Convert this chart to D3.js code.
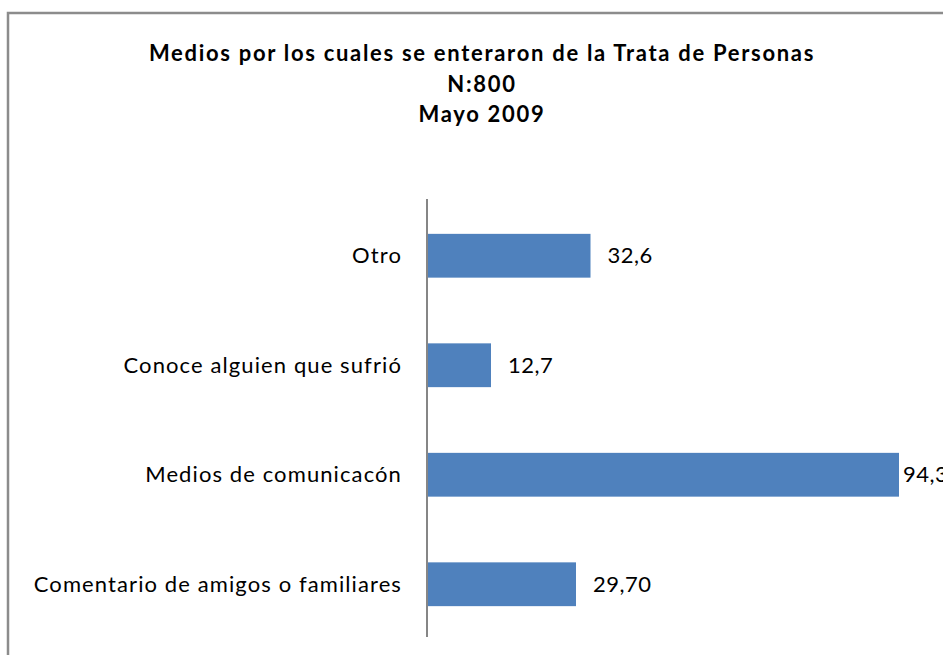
<!DOCTYPE html>
<html>
<head>
<meta charset="utf-8">
<style>
  body { margin: 0; background: #fff; }
  text { font-family: Lato, "Open Sans", sans-serif; fill: #000; }
</style>
</head>
<body>
<script src="https://d3js.org/d3.v7.min.js"></script>
<script>
// chart data, top to bottom as drawn
var categories = ["Otro", "Conoce alguien que sufrió", "Medios de comunicacón ", "Comentario de amigos o familiares"];
var values = [32.6, 12.7, 94.3, 29.70];
var valueLabels = ["32,6", "12,7", "94,3", "29,70"];
var titleLines = ["Medios por los cuales se enteraron de la Trata de Personas", "N:800", "Mayo 2009"];

var width = 943, height = 655;

var svg = d3.select("body").append("svg")
    .attr("width", width)
    .attr("height", height);

// outer chart frame (runs past the right and bottom edges)
svg.append("rect")
    .attr("x", 8).attr("y", 13)
    .attr("width", 960).attr("height", 680)
    .attr("fill", "none")
    .attr("stroke", "#8c8c8c")
    .attr("stroke-width", 2.5);

// title
svg.selectAll(".title")
    .data(titleLines)
    .enter().append("text")
    .attr("class", "title")
    .attr("x", 482)
    .attr("y", function (d, i) { return 61 + i * 30.5; })
    .attr("text-anchor", "middle")
    .style("font-weight", "bold")
    .style("font-size", "22px")
    .style("letter-spacing", "1.7px")
    .text(function (d) { return d; });

var x = d3.scaleLinear().domain([0, 100]).range([427.5, 927.5]);
var y = d3.scaleBand().domain(categories).range([199, 637]).paddingInner(0.6).paddingOuter(0.3);

// bars
svg.selectAll(".bar")
    .data(values)
    .enter().append("rect")
    .attr("class", "bar")
    .attr("x", x(0))
    .attr("y", function (d, i) { return y(categories[i]) + 2; })
    .attr("width", function (d) { return x(d) - x(0); })
    .attr("height", y.bandwidth())
    .attr("fill", "#4f81bd");

// category axis line
svg.append("line")
    .attr("x1", x(0) - 0.5).attr("x2", x(0) - 0.5)
    .attr("y1", 199).attr("y2", 637)
    .attr("stroke", "#868686")
    .attr("stroke-width", 2);

// category labels
svg.selectAll(".cat")
    .data(categories)
    .enter().append("text")
    .attr("class", "cat")
    .attr("x", 402)
    .attr("y", function (d) { return y(d) + 2 + y.bandwidth() / 2; })
    .attr("dy", "0.35em")
    .attr("text-anchor", "end")
    .style("font-size", "22px")
    .style("letter-spacing", "1.1px")
    .text(function (d) { return d; });

// value labels, pushed back in when they would run off the chart
svg.selectAll(".val")
    .data(values)
    .enter().append("text")
    .attr("class", "val")
    .attr("x", function (d) { return Math.min(x(d) + 17, 903); })
    .attr("y", function (d, i) { return y(categories[i]) + 2 + y.bandwidth() / 2; })
    .attr("dy", "0.35em")
    .style("font-size", "22px")
    .style("letter-spacing", "0.5px")
    .text(function (d, i) { return valueLabels[i]; });
</script>
</body>
</html>
